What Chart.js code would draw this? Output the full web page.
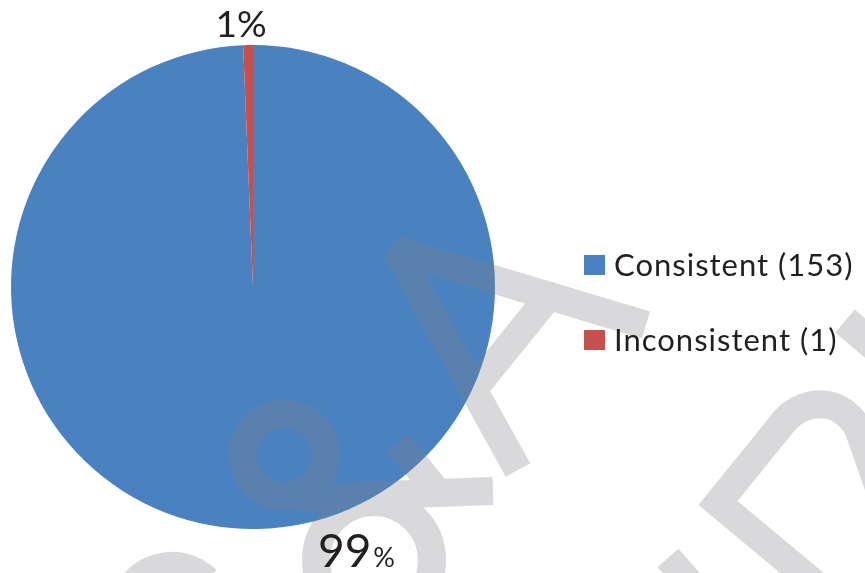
<!DOCTYPE html>
<html>
<head>
<meta charset="utf-8">
<script src="https://cdn.jsdelivr.net/npm/chart.js@4.4.1/dist/chart.umd.min.js"></script>
<style>
  body { margin: 0; background: #fff; }
  canvas { display: block; }
</style>
</head>
<body>
<canvas id="pie" width="865" height="573"></canvas>
<script>
const categories = ['Consistent (153)', 'Inconsistent (1)'];
const counts = [153, 1];
const sliceColors = ['#4A81C0', '#C5504D'];

const textColor = '#231F20';
const fontName = 'Lato, "Open Sans", sans-serif';

// grey diagonal watermark that sits over the page
function drawWatermark(ctx, w, h) {
    const off = document.createElement('canvas');
    off.width = w;
    off.height = h;
    const g = off.getContext('2d');
    g.strokeStyle = 'rgb(128,130,135)';
    g.lineCap = 'butt';
    g.lineJoin = 'bevel';
    g.lineWidth = 28;

    g.beginPath();
    g.moveTo(646, 325);
    g.lineTo(396, 250);
    g.lineTo(518, 470);
    g.stroke();

    g.lineJoin = 'miter';
    g.beginPath();
    g.moveTo(546, 300);
    g.lineTo(478, 384);
    g.stroke();

    g.beginPath();
    g.arc(284, 455, 41, 0, Math.PI * 2);
    g.stroke();

    g.beginPath();
    g.moveTo(300, 498);
    g.lineTo(493, 491);
    g.stroke();

    g.beginPath();
    g.moveTo(398, 443);
    g.lineTo(440, 495);
    g.stroke();

    g.beginPath();
    g.arc(374, 560, 58, 0, Math.PI * 2);
    g.stroke();

    g.beginPath();
    g.arc(172, 616, 50, Math.PI + 0.5, -0.8);
    g.stroke();

    g.beginPath();
    g.moveTo(832, 598);
    g.lineTo(718, 503);
    g.lineTo(782, 424);
    g.bezierCurveTo(800, 400, 838, 394, 858, 428);
    g.lineTo(885, 505);
    g.stroke();

    g.beginPath();
    g.moveTo(668, 558);
    g.lineTo(705, 600);
    g.stroke();

    g.lineWidth = 30;
    g.beginPath();
    g.moveTo(845, 321);
    g.lineTo(905, 372);
    g.stroke();

    ctx.save();
    ctx.globalAlpha = 0.3;
    ctx.drawImage(off, 0, 0);
    ctx.restore();
}

const labelsAndLegend = {
    id: 'labelsAndLegend',
    afterDatasetsDraw(chart) {
        const ctx = chart.ctx;
        drawWatermark(ctx, chart.width, chart.height);

        const meta = chart.getDatasetMeta(0);
        const total = counts.reduce((a, b) => a + b, 0);
        ctx.save();
        ctx.fillStyle = textColor;
        ctx.textBaseline = 'alphabetic';

        // percentage labels, outside the pie
        meta.data.forEach((arc, i) => {
            const p = arc.getProps(['x', 'y', 'startAngle', 'endAngle', 'outerRadius'], true);
            const mid = (p.startAngle + p.endAngle) / 2;
            const pct = Math.round(counts[i] / total * 100);
            const num = String(pct);
            if (i === 0) {
                // big slice: label sits below the pie, pushed right
                const bx = p.x + 65;
                const by = p.y + p.outerRadius + 38;
                ctx.font = '46px ' + fontName;
                ctx.textAlign = 'left';
                ctx.fillText(num, bx, by);
                const w = ctx.measureText(num).width;
                ctx.font = '27px ' + fontName;
                ctx.fillText('%', bx + w + 2, by);
            } else {
                const lx = p.x + Math.cos(mid) * p.outerRadius - 7;
                const ly = p.y + Math.sin(mid) * p.outerRadius - 8;
                ctx.font = '37px ' + fontName;
                ctx.textAlign = 'center';
                ctx.fillText(num + '%', lx, ly);
            }
        });

        // legend on the right
        const area = chart.chartArea;
        const lx = area.right + 89;
        let ly = 276;
        ctx.textAlign = 'left';
        ctx.font = '31px ' + fontName;
        ctx.letterSpacing = '1px';
        categories.forEach((name, i) => {
            ctx.fillStyle = sliceColors[i];
            ctx.fillRect(lx, ly - 21, 21, 20);
            ctx.fillStyle = textColor;
            ctx.fillText(name, lx + 30, ly);
            ly += 75;
        });
        ctx.restore();
    }
};

new Chart(document.getElementById('pie'), {
    type: 'pie',
    data: {
        labels: categories,
        datasets: [{
            data: counts,
            backgroundColor: sliceColors,
            borderWidth: 0
        }]
    },
    options: {
        responsive: false,
        animation: false,
        layout: { padding: { left: 11, top: 45, right: 370, bottom: 44 } },
        plugins: {
            legend: { display: false },
            tooltip: { enabled: false }
        }
    },
    plugins: [labelsAndLegend]
});
</script>
</body>
</html>
